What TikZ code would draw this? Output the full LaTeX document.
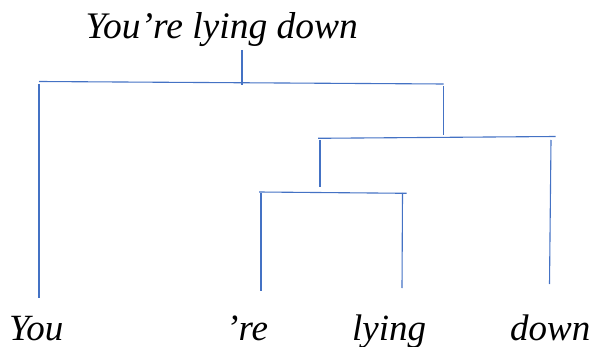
\documentclass[tikz,border=0pt]{standalone}
\usepackage{fontspec}
\newfontfamily\tnr{Liberation Serif}
\newcommand{\wtxt}[2]{\tnr\itshape\fontsize{#1}{43}\selectfont #2}
\definecolor{brc}{RGB}{68,114,196}
\begin{document}
\begin{tikzpicture}[x=1pt,y=-1pt,
  br/.style={draw=brc, line width=1.1pt},
  word/.style={inner sep=0pt, anchor=base west}]
\useasboundingbox (0,0) rectangle (593,347);
% words
\node[word] (top) at (85.5,39) {\wtxt{37.5}{You’re lying down}};
\node[word] (you) at (9,340) {\wtxt{37}{You}};
\node[word] (re) at (226,340) {\wtxt{37}{’re}};
\node[word] (lying) at (352,340) {\wtxt{37}{lying}};
\node[word] (down) at (510,340) {\wtxt{37}{down}};
% bracket corners
\coordinate (t1) at (242,50);
\coordinate (t2) at (242,85);
\coordinate (a1) at (39,81.5);
\coordinate (a2) at (443.5,84);
\coordinate (a3) at (443.5,86);
\coordinate (a4) at (443.5,135);
\coordinate (b1) at (318,138.3);
\coordinate (b2) at (555.5,136.5);
\coordinate (c1) at (259,192);
\coordinate (c2) at (406.5,193.3);
\coordinate (y1) at (39,84);
\coordinate (y2) at (39,298);
\coordinate (r1) at (320,140);
\coordinate (r2) at (320,187);
\coordinate (e1) at (261,193);
\coordinate (e2) at (261,291);
\coordinate (l1) at (402.5,193);
\coordinate (l2) at (402,288);
\coordinate (d1) at (551,140);
\coordinate (d2) at (549.5,284);
\draw[br] (t1) -- (t2);
\draw[br] (a1) -- (a2);
\draw[br] (a3) -- (a4);
\draw[br] (b1) -- (b2);
\draw[br] (c1) -- (c2);
\draw[br] (y1) -- (y2);
\draw[br] (r1) -- (r2);
\draw[br] (e1) -- (e2);
\draw[br] (l1) -- (l2);
\draw[br] (d1) -- (d2);
\end{tikzpicture}
\end{document}
